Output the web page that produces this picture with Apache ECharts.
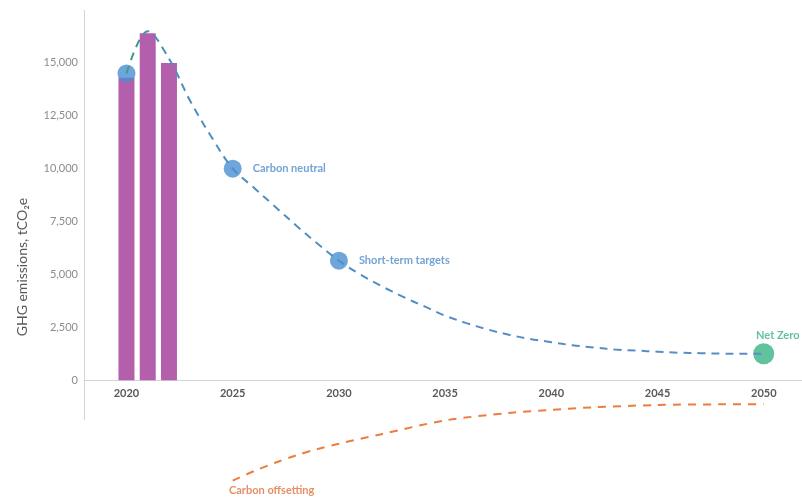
<!DOCTYPE html>
<html>
<head>
<meta charset="utf-8">
<title>GHG emissions pathway</title>
<script src="https://cdn.jsdelivr.net/npm/echarts@6/dist/echarts.min.js"></script>
<style>
	html, body { margin: 0; padding: 0; background: #fff; }
	.chart { width: 802px; height: 497px; }
</style>
</head>
<body>
<div class="chart"></div>
<script>
// data
var barYears = [2020, 2021, 2022];
var barValues = [14300, 16400, 15000];

var pathYears = [2020, 2021, 2022, 2023, 2024, 2025, 2026, 2027, 2028, 2029, 2030, 2031, 2032, 2033, 2034, 2035,
	2036, 2037, 2038, 2039, 2040, 2041, 2042, 2043, 2044, 2045, 2046, 2047, 2048, 2049, 2050];
var pathValues = [14500, 16500, 15200, 13200, 11500, 10000, 9100, 8200, 7300, 6450, 5650, 5000, 4450, 3950, 3500, 3050,
	2700, 2400, 2150, 1950, 1800, 1650, 1550, 1450, 1400, 1350, 1300, 1280, 1260, 1250, 1250];

var offsetYears = [2025, 2026, 2027, 2028, 2029, 2030, 2032, 2035, 2038, 2040, 2042, 2045, 2048, 2050];
var offsetValues = [-4750, -4300, -3900, -3550, -3250, -3000, -2550, -1900, -1550, -1400, -1280, -1170, -1140, -1130];

var milestoneYears = [2020, 2025, 2030, 2050];
var milestoneValues = [14500, 10000, 5650, 1250];
var milestoneNames = ['', 'Carbon neutral', 'Short-term targets', 'Net Zero'];

var xTickLabels = [2020, 2025, 2030, 2035, 2040, 2045, 2050];
var yTickMax = 15000;
var yMin = -5000;
var yMax = 17500;

(function () {
	var myChart = echarts.init(document.querySelector(".chart"));
	var font = 'Lato, "Open Sans", sans-serif';
	var gridTop = 10, gridBottom = 11, chartH = 497;

	function pairs(xs, ys) {
		return xs.map(function (x, i) { return [x, ys[i]]; });
	}

	// lift the year axis from the grid bottom up to the zero line
	var plotH = chartH - gridTop - gridBottom;
	var zeroLift = -plotH * (0 - yMin) / (yMax - yMin);

	// milestone dots: blue ones, green for net zero
	var milestoneData = milestoneYears.map(function (y, i) {
		var last = i === milestoneYears.length - 1;
		return {
			value: [y, milestoneValues[i]],
			symbolSize: last ? 21 : 18,
			itemStyle: { color: last ? '#3bb386' : '#4a8fd1' },
			label: last ? {
				show: true,
				position: 'top',
				offset: [14, 3],
				color: '#3bb386'
			} : {
				show: milestoneNames[i] !== '',
				position: 'right',
				distance: 11,
				color: '#4f8cc9'
			}
		};
	});

	var option = {
		animation: false,
		textStyle: { fontFamily: font },
		grid: {
			left: 84,
			right: 0,
			top: gridTop,
			bottom: gridBottom,
			outerBoundsMode: 'none',
			containLabel: false
		},
		xAxis: {
			type: 'value',
			min: 2018,
			max: 2051.8,
			offset: zeroLift,
			splitLine: { show: false },
			axisTick: { show: false },
			axisLine: {
				onZero: false,
				lineStyle: { color: '#d4d4d4', width: 1 }
			},
			axisLabel: {
				customValues: xTickLabels,
				color: '#595959',
				fontWeight: 'bold',
				fontSize: 11,
				margin: 8,
				fontFamily: font,
				formatter: function (v) { return String(v); }
			}
		},
		yAxis: {
			type: 'value',
			min: yMin,
			max: yMax,
			interval: 2500,
			splitLine: { show: false },
			axisTick: { show: false },
			axisLine: { show: false },
			axisLabel: {
				color: '#8c8c8c',
				fontSize: 11,
				margin: 6,
				fontFamily: font,
				formatter: function (v) {
					if (v < 0 || v > yTickMax) return '';
					return echarts.format.addCommas(v);
				}
			}
		},
		graphic: [
			{
				// axis title
				type: 'text',
				x: 22,
				y: 267,
				rotation: Math.PI / 2,
				style: {
					text: 'GHG emissions, tCO₂e',
					fill: '#595959',
					font: '14px ' + font,
					textAlign: 'center',
					textVerticalAlign: 'middle'
				}
			}
		],
		series: [
			{
				name: 'Emissions',
				type: 'bar',
				barWidth: 16,
				itemStyle: { color: '#b45fac' },
				data: pairs(barYears, barValues),
				// vertical axis line (stops a little below zero)
				markLine: {
					silent: true,
					symbol: 'none',
					label: { show: false },
					lineStyle: { color: '#d4d4d4', type: 'solid', width: 1 },
					data: [[{ coord: [2018, yMax] }, { coord: [2018, -1900] }]]
				}
			},
			{
				name: 'Pathway',
				type: 'line',
				smooth: 0.35,
				showSymbol: false,
				lineStyle: {
					width: 2,
					type: [8, 6],
					color: new echarts.graphic.LinearGradient(0, 0, 1, 0, [
						{ offset: 0, color: '#3f9a88' },
						{ offset: 0.08, color: '#4a8fc2' },
						{ offset: 1, color: '#5a8ec4' }
					])
				},
				data: pairs(pathYears, pathValues)
			},
			{
				name: 'Carbon offsetting',
				type: 'line',
				smooth: 0.3,
				showSymbol: false,
				lineStyle: { width: 2, type: [8, 7], color: '#ec7d3f' },
				data: pairs(offsetYears, offsetValues)
			},
			{
				// anchor for the "Carbon offsetting" text at the start of the curve
				name: 'Offset label',
				type: 'scatter',
				symbolSize: 1,
				itemStyle: { color: 'rgba(0,0,0,0)' },
				label: {
					show: true,
					position: 'bottom',
					offset: [39, -1],
					color: '#e0703f',
					fontWeight: 'bold',
					fontSize: 11,
					formatter: 'Carbon offsetting'
				},
				data: [[offsetYears[0], offsetValues[0]]]
			},
			{
				name: 'Milestones',
				type: 'scatter',
				label: {
					fontWeight: 'bold',
					fontSize: 11,
					formatter: function (p) { return milestoneNames[p.dataIndex]; }
				},
				data: milestoneData
			}
		]
	};

	myChart.setOption(option);
	window.addEventListener('resize', function () {
		myChart.resize();
	});
})();
</script>
</body>
</html>
